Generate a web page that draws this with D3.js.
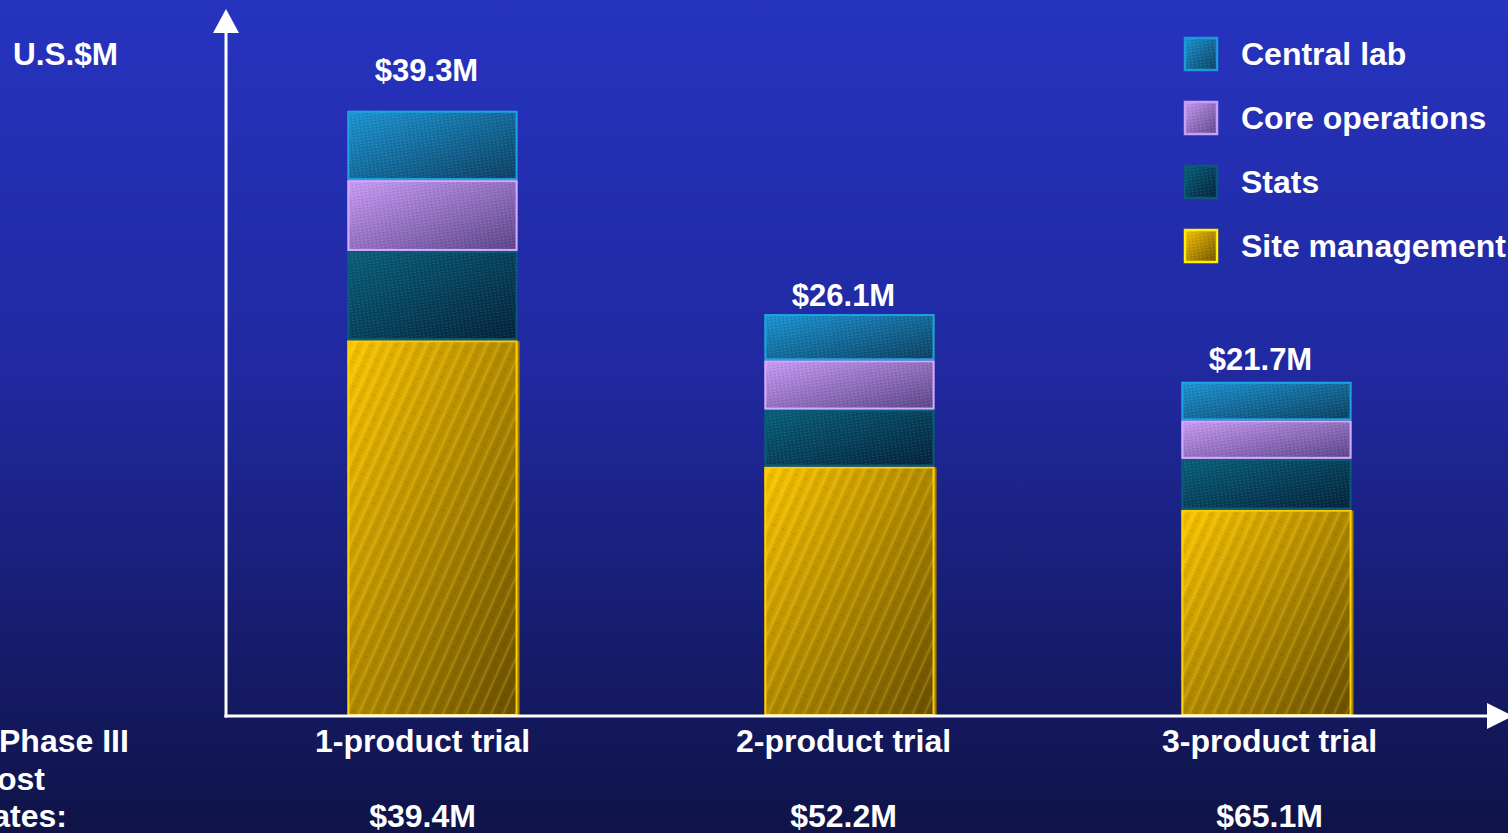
<!DOCTYPE html>
<html>
<head>
<meta charset="utf-8">
<script src="https://cdn.jsdelivr.net/npm/d3@7"></script>
<style>
  html, body { margin: 0; padding: 0; background: #1a2385; overflow: hidden; }
  svg { display: block; }
  text { font-family: "Liberation Sans", Arial, sans-serif; font-weight: bold; fill: #ffffff; }
</style>
</head>
<body>
<svg id="chart" width="1508" height="833"></svg>
<script>
// Trial cost by component, U.S.$M
const categories = ["1-product trial", "2-product trial", "3-product trial"];
const centralLab = [4.5, 3.0, 2.5];
const coreOperations = [4.6, 3.2, 2.5];
const stats = [5.8, 3.7, 3.3];
const siteManagement = [24.4, 16.2, 13.4];
const phaseIIIEstimates = ["$39.4M", "$52.2M", "$65.1M"];
const seriesNames = ["Site management", "Stats", "Core operations", "Central lab"];
const legendOrder = ["Central lab", "Core operations", "Stats", "Site management"];

// styling per component
const styles = {
  "Central lab":     { light: "#1b96d6", dark: "#0b3f60", border: "#1ea2e2", legendBorder: "#1a9ad8", hatch: "dots" },
  "Core operations": { light: "#cc9cf8", dark: "#5a4488", border: "#d2aaff", legendBorder: "#c9a0f8", hatch: "dots" },
  "Stats":           { light: "#08607c", dark: "#03223a", border: "#0b5c7a", legendBorder: "#0a5a74", hatch: "dots" },
  "Site management": { light: "#ffc800", dark: "#6a5000", border: "#ffd000", legendBorder: "#fff000", hatch: "lines" }
};
// small vertical nudges for the total labels above each bar
const totalLabelGap = [30, 8, 12];
// small horizontal nudges for the category captions under the axis
const captionShift = [-10, -6, 3];

const W = 1508, H = 833;
const axisX = 226, axisY = 716;

const svg = d3.select("#chart");
const defs = svg.append("defs");

// background
const bg = defs.append("linearGradient").attr("id", "bg").attr("x1", 0).attr("y1", 0).attr("x2", 0).attr("y2", 1);
bg.append("stop").attr("offset", 0).attr("stop-color", "#2633bf");
bg.append("stop").attr("offset", 0.45).attr("stop-color", "#2029a0");
bg.append("stop").attr("offset", 1).attr("stop-color", "#0f1347");
svg.append("rect").attr("width", W).attr("height", H).attr("fill", "url(#bg)");

// gradients + textures
seriesNames.forEach((name, i) => {
  const s = styles[name];
  const g = defs.append("linearGradient").attr("id", "grad" + i)
    .attr("x1", 0).attr("y1", 0).attr("x2", 1).attr("y2", 1);
  g.append("stop").attr("offset", 0).attr("stop-color", s.light);
  g.append("stop").attr("offset", 1).attr("stop-color", s.dark);
});

const lines = defs.append("pattern").attr("id", "hatchLines")
  .attr("patternUnits", "userSpaceOnUse").attr("width", 11).attr("height", 11)
  .attr("patternTransform", "rotate(24)");
lines.append("rect").attr("width", 11).attr("height", 11).attr("fill", "none");
lines.append("line").attr("x1", 2).attr("y1", 0).attr("x2", 2).attr("y2", 11)
  .attr("stroke", "rgba(255,225,90,0.25)").attr("stroke-width", 1.5);
lines.append("line").attr("x1", 7).attr("y1", 0).attr("x2", 7).attr("y2", 11)
  .attr("stroke", "rgba(0,0,0,0.12)").attr("stroke-width", 5).attr("stroke-dasharray", "1,1");

const dots = defs.append("pattern").attr("id", "hatchDots")
  .attr("patternUnits", "userSpaceOnUse").attr("width", 4).attr("height", 3)
  .attr("patternTransform", "rotate(-8)");
dots.append("rect").attr("x", 0).attr("y", 0).attr("width", 2).attr("height", 1).attr("fill", "rgba(255,255,255,0.10)");
dots.append("rect").attr("x", 2).attr("y", 1).attr("width", 2).attr("height", 1).attr("fill", "rgba(0,0,0,0.10)");

// scales
const x = d3.scaleBand().domain(categories).range([224, 1475]).paddingInner(0.592).paddingOuter(0.296);
const y = d3.scaleLinear().domain([0, 45]).range([axisY, 23]);

const table = categories.map((c, i) => ({
  category: c,
  "Central lab": centralLab[i],
  "Core operations": coreOperations[i],
  "Stats": stats[i],
  "Site management": siteManagement[i]
}));
const stacked = d3.stack().keys(seriesNames)(table);

// bars
const layers = svg.append("g").selectAll("g").data(stacked).join("g");
layers.each(function (layer, li) {
  const s = styles[layer.key];
  const g = d3.select(this);
  const segs = g.selectAll("g").data(layer).join("g");
  if (layer.key === "Site management") {
    segs.append("rect")
      .attr("x", d => x(d.data.category) + x.bandwidth() - 1)
      .attr("y", d => y(d[1]) + 1)
      .attr("width", 3)
      .attr("height", d => y(d[0]) - y(d[1]) - 1)
      .attr("fill", "#a07c00");
  }
  segs.append("rect")
    .attr("x", d => x(d.data.category))
    .attr("y", d => y(d[1]))
    .attr("width", x.bandwidth())
    .attr("height", d => y(d[0]) - y(d[1]))
    .attr("fill", "url(#grad" + li + ")");
  segs.append("rect")
    .attr("x", d => x(d.data.category))
    .attr("y", d => y(d[1]))
    .attr("width", x.bandwidth())
    .attr("height", d => y(d[0]) - y(d[1]))
    .attr("fill", s.hatch === "lines" ? "url(#hatchLines)" : "url(#hatchDots)");
  segs.append("rect")
    .attr("x", d => x(d.data.category) + 1)
    .attr("y", d => y(d[1]) + 1)
    .attr("width", x.bandwidth() - 2)
    .attr("height", d => Math.max(0, y(d[0]) - y(d[1]) - 2))
    .attr("fill", "none")
    .attr("stroke", s.border)
    .attr("stroke-width", 2);
});

// totals above bars
const totals = categories.map((c, i) => centralLab[i] + coreOperations[i] + stats[i] + siteManagement[i]);
svg.append("g").selectAll("text").data(categories).join("text")
  .attr("x", d => x(d) + x.bandwidth() / 2 - 6)
  .attr("y", (d, i) => y(totals[i]) - totalLabelGap[i])
  .attr("text-anchor", "middle")
  .attr("font-size", 31)
  .text((d, i) => "$" + totals[i].toFixed(1) + "M");

// axes
const axes = svg.append("g");
axes.append("line").attr("x1", axisX).attr("y1", axisY + 1.5).attr("x2", axisX).attr("y2", 30)
  .attr("stroke", "#ffffff").attr("stroke-width", 3);
axes.append("path").attr("d", `M${axisX - 13},33 L${axisX + 13},33 L${axisX},9 Z`).attr("fill", "#ffffff");
axes.append("line").attr("x1", axisX - 1.5).attr("y1", axisY).attr("x2", 1490).attr("y2", axisY)
  .attr("stroke", "#ffffff").attr("stroke-width", 3);
axes.append("path").attr("d", `M1487,${axisY - 13} L1487,${axisY + 13} L1513,${axisY} Z`).attr("fill", "#ffffff");

// category labels and phase III estimates
svg.append("g").selectAll("text").data(categories).join("text")
  .attr("x", (d, i) => x(d) + x.bandwidth() / 2 + captionShift[i])
  .attr("y", 752)
  .attr("text-anchor", "middle")
  .attr("font-size", 32)
  .text(d => d);
svg.append("g").selectAll("text").data(phaseIIIEstimates).join("text")
  .attr("x", (d, i) => x(categories[i]) + x.bandwidth() / 2 + captionShift[i])
  .attr("y", 827)
  .attr("text-anchor", "middle")
  .attr("font-size", 32)
  .text(d => d);

// row caption on the left
const caption = svg.append("g").attr("font-size", 32);
caption.append("text").attr("x", -1).attr("y", 752).text("Phase III");
caption.append("text").attr("x", 45).attr("y", 790).attr("text-anchor", "end").text("cost");
caption.append("text").attr("x", 67).attr("y", 827).attr("text-anchor", "end").text("estimates:");

// unit label
svg.append("text").attr("x", 13).attr("y", 65).attr("font-size", 31.5).text("U.S.$M");

// legend
const legend = svg.append("g").selectAll("g").data(legendOrder).join("g")
  .attr("transform", (d, i) => `translate(1184, ${37 + i * 64})`);
legend.append("rect").attr("width", 34).attr("height", 34)
  .attr("fill", d => "url(#grad" + seriesNames.indexOf(d) + ")");
legend.append("rect").attr("width", 34).attr("height", 34).attr("fill", "url(#hatchDots)");
legend.append("rect").attr("x", 1).attr("y", 1).attr("width", 32).attr("height", 32)
  .attr("fill", "none").attr("stroke", d => styles[d].legendBorder).attr("stroke-width", 2.5);
legend.append("text").attr("x", 57).attr("y", 28).attr("font-size", 32).text(d => d);
</script>
</body>
</html>
